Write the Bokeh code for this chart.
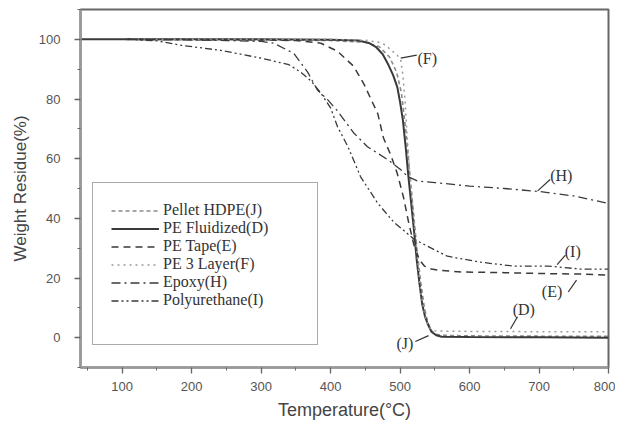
from bokeh.plotting import figure
from bokeh.models import Legend, LegendItem, FixedTicker, Range1d, Label
from bokeh.embed import file_html
from bokeh.resources import INLINE

# ---- data ----
t_J = [105, 200, 300, 400, 450, 470, 485, 495, 502, 508, 512, 516, 520, 525, 530, 535, 540, 545, 550, 560, 600, 700, 800]
w_J = [100, 100, 99.8, 99.6, 99, 97.5, 94, 89, 82, 70, 60, 50, 40, 28, 18, 10, 5, 2.5, 1.2, 0.8, 0.6, 0.5, 0.5]

t_D = [40, 100, 200, 300, 400, 440, 455, 465, 475, 482, 490, 496, 500, 504, 508, 512, 516, 520, 524, 528, 532, 536, 540, 545, 552, 560, 600, 700, 800]
w_D = [100, 100, 100, 100, 99.9, 99.6, 98.8, 97.5, 95, 92, 88, 84, 79, 73, 64, 54, 45, 36, 26, 18, 11, 7, 4.5, 2, 0.8, 0.3, 0.2, 0.1, 0]

t_E = [105, 200, 300, 350, 386, 410, 433, 448, 468, 476, 487, 496, 505, 512, 520, 528, 535, 545, 560, 590, 650, 700, 760, 800]
w_E = [100, 99.9, 99.8, 99.6, 98.7, 96, 91, 85, 75, 67, 61, 55, 47, 39, 31, 26, 24, 23, 22.5, 22, 21.8, 21.5, 21.3, 21]

t_F = [105, 200, 300, 400, 450, 470, 480, 487, 495, 501, 504, 507, 510, 514, 518, 522, 526, 530, 535, 540, 545, 550, 560, 600, 700, 800]
w_F = [100, 100, 100, 100, 99.7, 99, 98, 96.3, 95, 93, 88, 80, 68, 55, 44, 34, 24, 15, 8, 4, 2.8, 2.3, 2.2, 2.1, 2, 2]

t_H = [105, 200, 250, 300, 318, 347, 367, 381, 396, 410, 433, 453, 482, 501, 511, 525, 550, 600, 650, 700, 750, 800]
w_H = [100, 99.8, 99.6, 99.3, 98.7, 95.3, 89, 83, 79.7, 76, 68.7, 64, 59.7, 56.3, 54, 52.5, 52, 50.8, 50, 49, 47.5, 45]

t_I = [105, 150, 185, 242, 300, 340, 357, 372, 386, 400, 410, 425, 443, 468, 491, 505, 520, 545, 568, 616, 663, 712, 760, 800]
w_I = [100, 99.5, 98, 96.3, 93.7, 91.5, 89, 86, 82, 77, 70.7, 64, 54, 45, 38.7, 36, 33, 30, 27.3, 25.3, 24, 24, 23, 23]

series_names = ["Pellet HDPE(J)", "PE Fluidized(D)", "PE Tape(E)", "PE 3 Layer(F)", "Epoxy(H)", "Polyurethane(I)"]

x_ticks = [100, 200, 300, 400, 500, 600, 700, 800]
x_minor = [50, 150, 250, 350, 450, 550, 650, 750]
y_ticks = [0, 20, 40, 60, 80, 100]
y_minor = [-10, 10, 30, 50, 70, 90, 110]

# curve tags: text position and leader line (data units)
tag_text = ["(F)", "(H)", "(I)", "(E)", "(D)", "(J)"]
tag_x = [525, 716, 737, 704, 662, 519]
tag_y = [93.5, 54.5, 29, 15.5, 9.5, -2]
tag_align = ["left", "left", "left", "left", "left", "right"]
lead_x0 = [501, 698, 726, 742, 659, 522]
lead_y0 = [93.7, 49.2, 24.5, 15.3, 3, -1.3]
lead_x1 = [524, 716, 738, 754, 669, 541]
lead_y1 = [94.7, 53, 27.7, 19.3, 7, 0.7]

p = figure(width=615, height=424, output_backend="svg", toolbar_location=None,
           x_range=Range1d(40, 800), y_range=Range1d(-10, 110),
           min_border_left=80, min_border_right=7, min_border_top=9, min_border_bottom=57)
p.background_fill_color = "white"
p.border_fill_color = "white"
p.outline_line_color = "#666666"
p.outline_line_width = 2
p.xgrid.visible = False
p.ygrid.visible = False

styles = [
    dict(line_color="#8a8a8a", line_width=1.6, line_dash="4 3"),
    dict(line_color="#3a3a3a", line_width=2.0, line_dash="solid"),
    dict(line_color="#3a3a3a", line_width=1.5, line_dash="7 5"),
    dict(line_color="#9a9a9a", line_width=1.5, line_dash="2 4"),
    dict(line_color="#3a3a3a", line_width=1.3, line_dash="9 4 2 4"),
    dict(line_color="#3a3a3a", line_width=1.3, line_dash="7 3 2 3 2 3"),
]
data = [(t_J, w_J), (t_D, w_D), (t_E, w_E), (t_F, w_F), (t_H, w_H), (t_I, w_I)]
items = []
for (tx, wy), st, nm in zip(data, styles, series_names):
    r = p.line(tx, wy, **st)
    items.append(LegendItem(label=nm, renderers=[r]))

# blank spacer entry to reproduce the legend box's bottom space
spacer = p.line([], [], line_alpha=0)
items.append(LegendItem(label=" ", renderers=[spacer]))

legend = Legend(items=items, location=(12, 22))
legend.label_text_font = "Liberation Serif"
legend.label_text_font_size = "16px"
legend.label_text_color = "#333333"
legend.label_height = 17
legend.glyph_height = 17
legend.glyph_width = 48
legend.label_width = 136
legend.label_standoff = 4
legend.spacing = 0
legend.padding = 18
legend.margin = 0
legend.border_line_color = "#555555"
legend.border_line_width = 1.5
legend.background_fill_alpha = 1
p.add_layout(legend, "center")

# tags
p.segment(lead_x0, lead_y0, lead_x1, lead_y1, line_color="#333333", line_width=1.2)
for tx_, ty_, tt, al in zip(tag_x, tag_y, tag_text, tag_align):
    p.add_layout(Label(x=tx_, y=ty_, text=tt, text_align=al, text_baseline="middle",
                       text_font="Liberation Serif", text_font_size="16px", text_color="#333333"))

for ax in (p.xaxis, p.yaxis):
    ax.axis_line_color = "#999999"
    ax.axis_line_width = 2.5
    ax.major_tick_line_color = "#666666"
    ax.minor_tick_line_color = "#666666"
    ax.major_tick_line_width = 1.3
    ax.major_tick_in = 0
    ax.major_tick_out = 6
    ax.minor_tick_in = 0
    ax.minor_tick_out = 3
    ax.major_label_text_font = "Liberation Sans"
    ax.major_label_text_font_size = "13px"
    ax.major_label_text_color = "#555555"
    ax.axis_label_text_font = "Liberation Sans"
    ax.axis_label_text_font_style = "normal"
    ax.axis_label_text_color = "#444444"

p.xaxis.ticker = FixedTicker(ticks=x_ticks, minor_ticks=x_minor)
p.yaxis.ticker = FixedTicker(ticks=y_ticks, minor_ticks=y_minor)
p.xaxis.axis_label = "Temperature(\u00b0C)"
p.yaxis.axis_label = "Weight Residue(%)"
p.xaxis.axis_label_text_font_size = "18px"
p.yaxis.axis_label_text_font_size = "17px"
p.xaxis.major_label_standoff = 8
p.yaxis.major_label_standoff = 14
p.xaxis.axis_label_standoff = 6
p.yaxis.axis_label_standoff = 6

open("out.html", "w").write(file_html(p, INLINE))
